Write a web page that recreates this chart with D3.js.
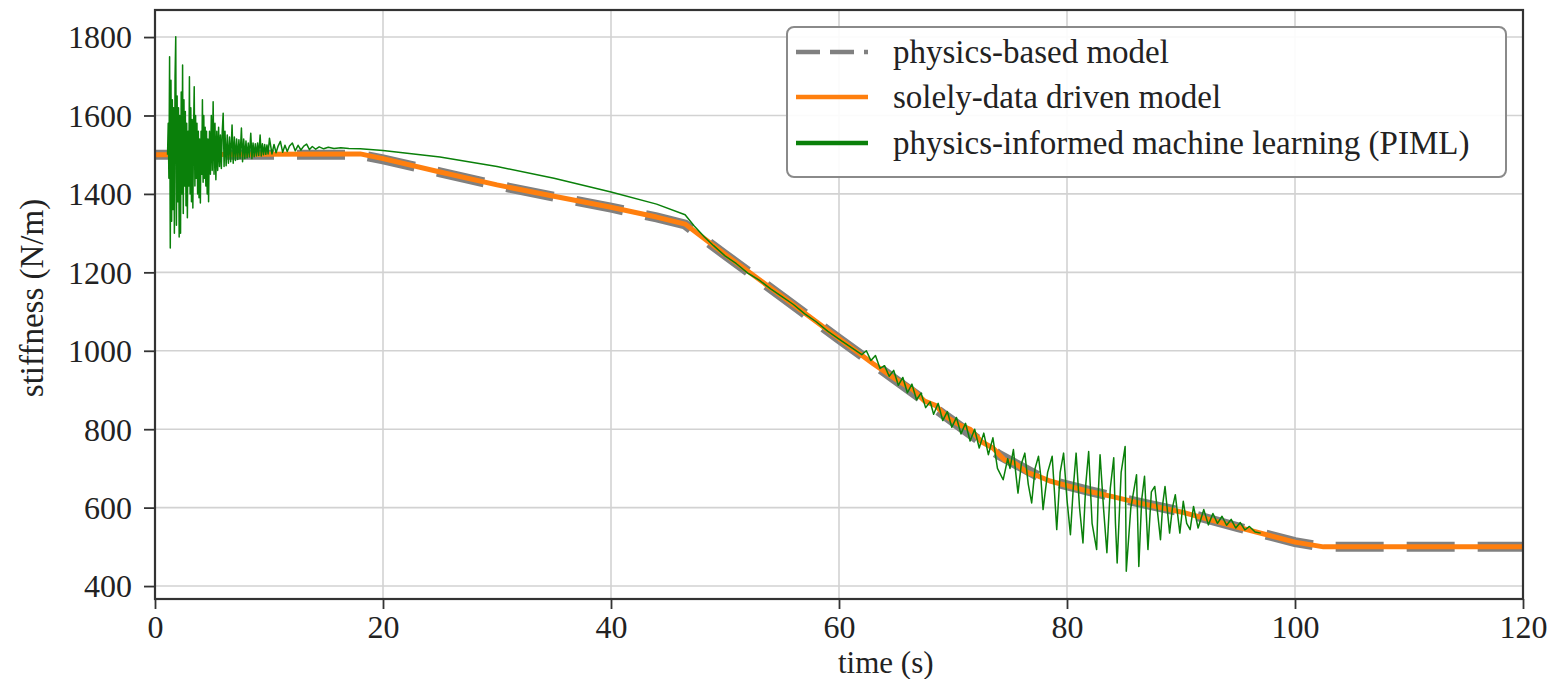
<!DOCTYPE html>
<html>
<head>
<meta charset="utf-8">
<script src="https://cdn.jsdelivr.net/npm/d3@7/dist/d3.min.js"></script>
<style>
html,body{margin:0;padding:0;background:#fff;}
svg{display:block;}
text{font-family:"Liberation Serif","Times New Roman",serif;fill:#222;}
</style>
</head>
<body>
<svg id="chart" width="1554" height="679"></svg>
<script>
// ---------- data ----------
const xTicks = [0, 20, 40, 60, 80, 100, 120];
const yTicks = [400, 600, 800, 1000, 1200, 1400, 1600, 1800];
const seriesNames = ["physics-based model", "solely-data driven model", "physics-informed machine learning (PIML)"];

const physicsT = [0, 18, 20, 25, 30, 35, 40, 44, 46.5, 48, 50, 55, 60, 65, 70, 74, 78, 82, 86, 90, 95, 100, 102.5, 120];
const physicsV = [1500, 1500, 1488, 1455, 1422, 1393, 1365, 1340, 1322, 1288, 1245, 1138, 1030, 925, 820, 735, 672, 642, 615, 590, 550, 512, 500, 500];

const dataDrivenT = [0, 18, 20, 25, 30, 35, 40, 44, 46.5, 48, 50, 55, 60, 63, 65, 66.5, 67.5, 68.5, 69.5, 70.5, 71.5, 72.5, 73.5, 74.5, 75.5, 76.5, 77.5, 78.5, 80, 82, 84, 86, 90, 95, 100, 102.5, 120];
const dataDrivenV = [1500, 1502, 1490, 1456, 1423, 1394, 1366, 1341, 1323, 1290, 1246, 1139, 1031, 967, 927, 900, 872, 860, 830, 812, 800, 768, 752, 722, 712, 690, 680, 668, 656, 641, 628, 614, 589, 550, 512, 500, 500];

const pimlT = [
 1.10,1.16,1.22,1.28,1.34,1.40,1.46,1.52,1.58,1.64,1.70,1.76,1.82,1.88,1.94,2.00,2.06,2.12,2.18,2.24,
 2.30,2.36,2.42,2.48,2.54,2.60,2.66,2.72,2.78,2.84,2.90,2.96,3.02,3.08,3.14,3.20,3.26,3.32,3.38,3.44,
 3.50,3.56,3.62,3.68,3.74,3.80,3.86,3.92,3.98,4.04,4.10,4.16,4.22,4.28,4.34,4.40,4.46,4.52,4.58,4.64,
 4.70,4.78,4.86,4.94,5.02,5.10,5.18,5.26,5.34,5.42,5.50,5.58,5.66,5.74,5.82,5.90,5.98,6.06,
 6.14,6.24,6.34,6.44,6.54,6.64,6.76,6.86,6.96,7.06,7.16,7.26,7.36,7.46,7.58,7.68,7.78,7.88,7.98,8.08,
 8.18,8.28,8.40,8.50,8.60,8.70,8.80,8.90,9.00,9.10,9.22,9.32,9.42,9.52,9.62,9.72,9.82,9.92,10.04,
 10.26,10.44,10.62,10.80,11.00,11.20,11.40,
 11.60,11.80,12.05,12.30,12.55,12.80,13.05,13.30,13.55,13.80,14.10,14.40,14.80,15.20,15.70,16.30,17.00,18.00,
 20,25,30,35,40,44,46.5,47.3,48.2,49,50,51,52,53,54,55,56,57,58,59,60,61,62,
 62.4,62.8,63.2,63.6,64.0,64.4,64.8,65.2,65.6,66.0,66.4,66.8,67.2,67.6,68.0,68.3,68.7,69.1,69.5,69.9,
 70.3,70.7,71.1,71.5,71.9,72.3,72.7,73.1,73.5,73.9,
 74.4,74.8,75.0,75.3,75.5,75.7,76.0,76.3,76.6,76.9,77.2,77.5,77.7,77.9,78.3,78.7,78.9,79.1,79.4,79.7,
 80.0,80.3,80.55,80.8,81.1,81.4,81.65,81.9,82.2,82.6,82.75,82.9,83.2,83.5,83.8,84.1,84.25,84.4,84.75,85.1,
 85.2,85.6,86.1,86.3,86.55,86.8,87.1,87.4,87.7,88.2,88.4,88.6,89.0,89.25,89.5,89.9,90.2,90.5,90.8,91.1,
 91.5,92.0,92.4,92.8,93.2,93.6,94.0,94.4,94.8,95.2,95.6,96.0,96.5,97.0
];
const pimlV = [
 1500,1580,1440,1750,1262,1690,1330,1640,1360,1620,1300,1700,1801,1320,1650,1380,1620,1290,1600,1300,
 1660,1400,1729,1350,1640,1420,1610,1370,1580,1339,1560,1420,1699,1400,1620,1380,1590,1364,1560,1673,
 1420,1600,1440,1580,1400,1560,1390,1540,1377,1560,1450,1640,1430,1600,1440,1570,1420,1560,1400,1540,
 1380,1560,1450,1600,1460,1635,1450,1580,1436,1560,1460,1570,1470,1550,1465,1560,1606,1470,
 1560,1472,1550,1478,1545,1482,1576,1478,1545,1485,1540,1488,1538,1490,1568,1482,1540,1490,1535,1492,
 1530,1494,1555,1490,1530,1495,1528,1497,1530,1498,1550,1497,1528,1500,1526,1501,1525,1502,1542,
 1502,1526,1505,1522,1534,1506,1524,
 1508,1522,1530,1510,1524,1512,1522,1527,1513,1521,1514,1520,1515,1519,1516,1518,1516,1515,
 1511,1494,1470,1440,1405,1374,1347,1318,1290,1268,1242,1222,1198,1180,1158,1138,1118,1094,1074,1050,1030,1010,990,
 1000,975,988,955,962,935,950,912,932,893,915,875,892,855,870,838,866,822,845,805,
 830,788,815,770,800,752,790,735,778,700,
 671,725,700,748,690,637,712,739,660,612,700,731,680,595,690,731,640,544,690,739,
 620,531,650,739,600,510,660,743,560,493,640,735,600,485,650,727,560,459,690,756,
 438,600,684,450,620,680,493,640,654,518,610,654,535,600,633,535,616,560,544,603,
 548,595,556,585,560,578,555,570,548,562,543,552,538,535
];

// ---------- layout ----------
const plotL = 155, plotR = 1523, plotT = 10, plotB = 599;

const x = d3.scaleLinear().domain([0, 120]).range([plotL, plotR]);
const y = d3.scaleLinear().domain([367, 1869]).range([plotB, plotT]);

const svg = d3.select("#chart");

svg.append("defs").append("clipPath").attr("id", "clip")
  .append("rect").attr("x", plotL).attr("y", plotT).attr("width", plotR - plotL).attr("height", plotB - plotT);

// grid
const grid = svg.append("g");
grid.selectAll("line.v").data(xTicks).enter().append("line").attr("class", "v")
  .attr("x1", d => x(d)).attr("x2", d => x(d)).attr("y1", plotT).attr("y2", plotB)
  .attr("stroke", "#d2d2d2").attr("stroke-width", 1.6);
grid.selectAll("line.h").data(yTicks).enter().append("line").attr("class", "h")
  .attr("y1", d => y(d)).attr("y2", d => y(d)).attr("x1", plotL).attr("x2", plotR)
  .attr("stroke", "#d2d2d2").attr("stroke-width", 1.6);

// series
const zip = (ts, vs) => ts.slice(0, Math.min(ts.length, vs.length)).map((t, i) => [t, vs[i]]);
const line = d3.line().x(d => x(d[0])).y(d => y(d[1]));
const plot = svg.append("g").attr("clip-path", "url(#clip)");

plot.append("path").datum(zip(physicsT, physicsV)).attr("d", line)
  .attr("fill", "none").attr("stroke", "#808080").attr("stroke-width", 10)
  .attr("stroke-dasharray", "48,23");
plot.append("path").datum(zip(dataDrivenT, dataDrivenV)).attr("d", line)
  .attr("fill", "none").attr("stroke", "#ff7f0e").attr("stroke-width", 5)
  .attr("stroke-linejoin", "round");
plot.append("path").datum(zip(pimlT, pimlV)).attr("d", line)
  .attr("fill", "none").attr("stroke", "#0a800a").attr("stroke-width", 1.5)
  .attr("stroke-linejoin", "round");

// axes
const xAxis = d3.axisBottom(x).tickValues(xTicks).tickSize(10).tickPadding(8).tickFormat(d3.format("d"));
const yAxis = d3.axisLeft(y).tickValues(yTicks).tickSize(11).tickPadding(12).tickFormat(d3.format("d"));

const gx = svg.append("g").attr("transform", `translate(0,${plotB})`).call(xAxis);
const gy = svg.append("g").attr("transform", `translate(${plotL},0)`).call(yAxis);
[gx, gy].forEach(g => {
  g.select(".domain").remove();
  g.selectAll(".tick line").attr("stroke", "#333").attr("stroke-width", 1.8);
  g.selectAll(".tick text").attr("font-size", 32).attr("fill", "#222")
    .style("font-family", '"Liberation Serif", serif');
});
gx.selectAll(".tick text").attr("dy", 20.5);
gy.selectAll(".tick text").attr("dy", "0.34em");

// frame
svg.append("rect").attr("x", plotL).attr("y", plotT).attr("width", plotR - plotL).attr("height", plotB - plotT)
  .attr("fill", "none").attr("stroke", "#333").attr("stroke-width", 2.2);

// axis labels
svg.append("text").attr("x", 838).attr("y", 672.5).attr("font-size", 31).attr("text-anchor", "start")
  .text("time (s)");
svg.append("text").attr("transform", "translate(43,298) rotate(-90)").attr("font-size", 33)
  .attr("text-anchor", "middle").text("stiffness (N/m)");

// legend
const lg = svg.append("g");
lg.append("rect").attr("x", 787).attr("y", 27).attr("width", 719).attr("height", 150).attr("rx", 7)
  .attr("fill", "#fff").attr("fill-opacity", 0.9).attr("stroke", "#8a8a8a").attr("stroke-width", 2);
const legendStyles = [
  {color: "#808080", dash: "24,10", w: 4.5},
  {color: "#ff7f0e", dash: null, w: 4.5},
  {color: "#0a800a", dash: null, w: 4.5}
];
const rowY = [52, 97, 143];
seriesNames.forEach((name, i) => {
  const l = lg.append("line").attr("x1", 796).attr("x2", 868).attr("y1", rowY[i]).attr("y2", rowY[i])
    .attr("stroke", legendStyles[i].color).attr("stroke-width", legendStyles[i].w);
  if (legendStyles[i].dash) l.attr("stroke-dasharray", legendStyles[i].dash);
  lg.append("text").attr("x", 893).attr("y", rowY[i] + 11).attr("font-size", 33).text(name);
});
</script>
</body>
</html>
